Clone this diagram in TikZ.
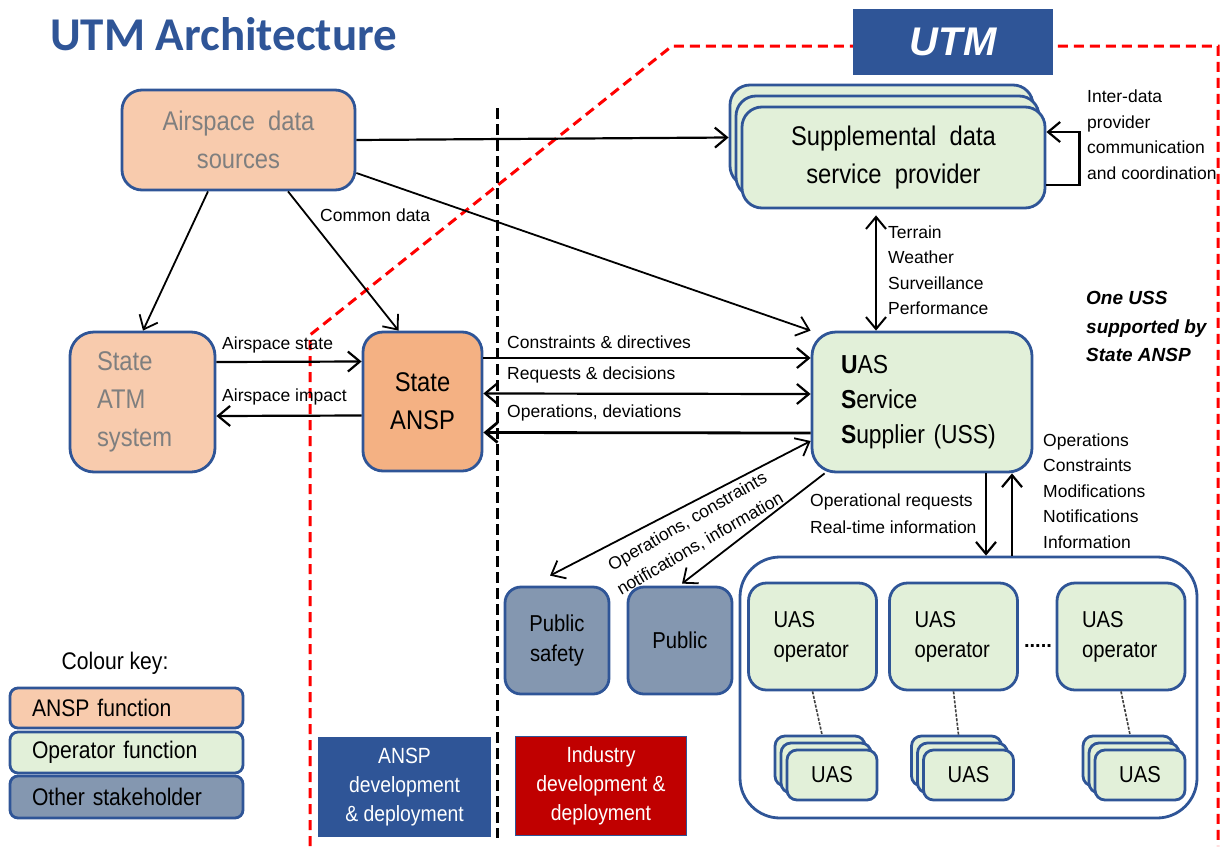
\documentclass[tikz,border=0pt]{standalone}
\usepackage{fontspec}
\setmainfont{Liberation Sans}
\newfontfamily\narrowsf[FakeStretch=0.88]{Liberation Sans}
\newfontfamily\titlesf{Carlito}
\usetikzlibrary{arrows.meta,shadows}
\definecolor{peach}{HTML}{F8CBAD}
\definecolor{ansporange}{HTML}{F4B183}
\definecolor{opgreen}{HTML}{E2F0D9}
\definecolor{stakegray}{HTML}{8497B0}
\definecolor{edgeblue}{HTML}{2F5597}
\definecolor{devred}{HTML}{C00000}
\definecolor{greytext}{HTML}{7F7F7F}

\begin{document}
\begin{tikzpicture}[x=1pt,y=-1pt,>={Straight Barb[length=12pt,width=20pt]},
  box/.style={draw=edgeblue,line width=2.8pt,rounded corners=20pt,align=center,inner sep=0pt},
  bigtxt/.style={font=\narrowsf\fontsize{27}{38}\selectfont},
  midtxt/.style={font=\narrowsf\fontsize{23}{30}\selectfont},
  lbl/.style={font=\fontsize{17.5}{25.5}\selectfont,inner sep=0pt,align=left,anchor=west},
  keybox/.style={box,rounded corners=8pt,minimum width=233pt,text width=189pt,align=left,inner xsep=22pt,font=\narrowsf\fontsize{24}{28}\selectfont},
  devbox/.style={draw=edgeblue,line width=1.8pt,minimum width=171pt,minimum height=99pt,text=white,align=center,font=\narrowsf\fontsize{22}{29}\selectfont},
  arr/.style={->,line width=2.2pt},
  link/.style={dash pattern=on 3pt off 1.5pt,line width=1.6pt,black!75}]
\useasboundingbox (0,0) rectangle (1220,846);

\draw[red,line width=3pt,dash pattern=on 10pt off 6pt] (310,846) -- (310,335) -- (672,46) -- (1218,46) -- (1218,846);
\draw[line width=3pt,dash pattern=on 11pt off 5pt] (497,108) -- (497,838);

\node[anchor=base west,inner sep=0pt,text=edgeblue,font=\titlesf\bfseries\fontsize{47}{50}\selectfont] (title) at (50,50) {UTM Architecture};
\node[fill=edgeblue,minimum width=200pt,minimum height=66pt,text=white,font=\bfseries\itshape\fontsize{40}{44}\selectfont] (utm) at (953,42) {UTM};

\node[box,bigtxt,fill=peach,text=greytext,minimum width=233pt,minimum height=100pt] (ads) at (238.5,140) {Airspace\ \ data\\sources};
\node[box,bigtxt,fill=peach,text=greytext,rounded corners=24pt,minimum width=145pt,minimum height=140pt,text width=91pt,align=left,inner xsep=27pt] (atm) at (142.5,402) {State\\ATM\\system};
\node[box,bigtxt,fill=ansporange,rounded corners=20pt,minimum width=119pt,minimum height=139pt] (ansp) at (422.5,401.5) {State\\ANSP};
\node[box,bigtxt,fill=opgreen,minimum width=303pt,minimum height=101pt,double copy shadow={shadow xshift=-6pt,shadow yshift=11pt}] (sdsp) at (893.5,157.5) {Supplemental\ \ data\\service\ \ provider};
\node[box,fill=opgreen,rounded corners=24pt,minimum width=220pt,minimum height=140pt,text width=162pt,align=left,inner xsep=29pt,font=\narrowsf\fontsize{26}{35}\selectfont] (uss) at (922,402) {{\bfseries U}AS\\{\bfseries S}ervice\\{\bfseries S}upplier (USS)};

\node[box,midtxt,fill=stakegray,rounded corners=16pt,minimum width=104pt,minimum height=107pt] (pubs) at (557,640.5) {Public\\safety};
\node[box,midtxt,fill=stakegray,rounded corners=16pt,minimum width=104pt,minimum height=107pt] (pub) at (680,640.5) {Public};

\node[box,fill=white,rounded corners=40pt,minimum width=457pt,minimum height=261pt] (ops) at (968.5,687.5) {};
\node[box,midtxt,fill=opgreen,rounded corners=18pt,minimum width=128pt,minimum height=107pt,text width=78pt,align=left,inner xsep=25pt] (op1) at (812.5,636.5) {UAS\\operator};
\node[box,midtxt,fill=opgreen,rounded corners=18pt,minimum width=128pt,minimum height=107pt,text width=78pt,align=left,inner xsep=25pt] (op2) at (953.5,636.5) {UAS\\operator};
\node[box,midtxt,fill=opgreen,rounded corners=18pt,minimum width=128pt,minimum height=107pt,text width=78pt,align=left,inner xsep=25pt] (op3) at (1121,636.5) {UAS\\operator};
\node[font=\bfseries\fontsize{20}{22}\selectfont,inner sep=0pt] (more) at (1038,646) {.....};
\node[box,midtxt,fill=opgreen,rounded corners=10pt,minimum width=90pt,minimum height=50pt,double copy shadow={shadow xshift=-6pt,shadow yshift=7pt}] (uas1) at (832,775) {UAS};
\node[box,midtxt,fill=opgreen,rounded corners=10pt,minimum width=90pt,minimum height=50pt,double copy shadow={shadow xshift=-6pt,shadow yshift=7pt}] (uas2) at (968.5,775) {UAS};
\node[box,midtxt,fill=opgreen,rounded corners=10pt,minimum width=90pt,minimum height=50pt,double copy shadow={shadow xshift=-6pt,shadow yshift=7pt}] (uas3) at (1140,775) {UAS};
\draw[link] (op1.south) -- ([xshift=-10pt,yshift=14pt]uas1.north);
\draw[link] (op2.south) -- ([xshift=-10pt,yshift=14pt]uas2.north);
\draw[link] (op3.south) -- ([xshift=-10pt,yshift=14pt]uas3.north);

\node[font=\narrowsf\fontsize{24}{28}\selectfont] (keytitle) at (115,663) {Colour key:};
\node[keybox,fill=peach,minimum height=40pt] (key1) at (126.5,708) {ANSP function};
\node[keybox,fill=opgreen,minimum height=41pt] (key2) at (126.5,752.5) {Operator function};
\node[keybox,fill=stakegray,minimum height=42pt] (key3) at (126.5,797) {Other stakeholder};
\node[devbox,fill=edgeblue] (anspdev) at (404.5,787) {ANSP\\development\\\& deployment};
\node[devbox,fill=devred] (inddev) at (601,786) {Industry\\development \&\\deployment};

\draw[arr] (ads.east) -- ([xshift=-12pt,yshift=20pt]sdsp.west);
\draw[arr,line width=1.8pt] ([xshift=-30.5pt]ads.south) -- ([xshift=0.5pt]atm.north);
\draw[arr,line width=1.8pt] ([xshift=49.5pt]ads.south) -- ([xshift=-24pt]ansp.north);
\draw[arr,line width=1.8pt] ([yshift=-33pt]ads.east) -- (uss.north west);
\draw[arr] ([yshift=40pt]atm.east) -- ([yshift=40pt]ansp.west);
\draw[arr] ([yshift=-14pt]ansp.west) -- ([yshift=-14pt]atm.east);
\draw[arr] ([yshift=43.5pt]ansp.east) -- ([yshift=44pt]uss.west);
\draw[<->,line width=2.2pt] ([yshift=8pt]ansp.east) -- ([yshift=8pt]uss.west);
\draw[arr,line width=2.8pt] ([yshift=-31pt]uss.west) -- ([yshift=-31pt]ansp.east);
\draw[<->,line width=2pt] ([xshift=-17.5pt,yshift=-6pt]sdsp.south) -- ([xshift=-46pt]uss.north);
\draw[arr] ([yshift=-27.5pt]sdsp.east) -| ([xshift=33pt,yshift=25.5pt]sdsp.east) -- ([yshift=25.5pt]sdsp.east);
\draw[<->,line width=1.8pt] ([yshift=-39pt]uss.west) -- ([xshift=-7pt,yshift=10pt]pubs.north);
\draw[arr,line width=1.8pt] ([xshift=14pt]uss.south west) -- ([xshift=2pt,yshift=2pt]pub.north);
\draw[arr] ([xshift=64pt]uss.south) -- ([xshift=17.5pt]ops.north);
\draw[arr] ([xshift=43.5pt]ops.north) -- ([xshift=90pt]uss.south);

\node[lbl] (lcommon) at (320,215) {Common data};
\node[lbl] (lstate) at (222,345) {Airspace state};
\node[lbl] (limpact) at (222,397) {Airspace impact};
\node[lbl] (lconstr) at (507,342) {Constraints \& directives};
\node[lbl] (lreq) at (507,375) {Requests \& decisions};
\node[lbl] (ldev) at (507,413) {Operations, deviations};
\node[lbl] (lterrain) at (888,270) {Terrain\\Weather\\Surveillance\\Performance};
\node[lbl] (linter) at (1087,134.5) {Inter-data\\provider\\communication\\and coordination};
\node[lbl,font=\bfseries\itshape\fontsize{19}{28.5}\selectfont] (lone) at (1086,326.5) {One USS\\supported by\\State ANSP};
\node[lbl,font=\fontsize{17.5}{27}\selectfont] (lopreq) at (810,513.5) {Operational requests\\Real-time information};
\node[lbl] (lopslist) at (1043,491) {Operations\\Constraints\\Modifications\\Notifications\\Information};
\node[lbl,anchor=center,align=center,rotate=30] (lpublic) at (694,533) {Operations, constraints\\notifications, information};
\end{tikzpicture}
\end{document}
